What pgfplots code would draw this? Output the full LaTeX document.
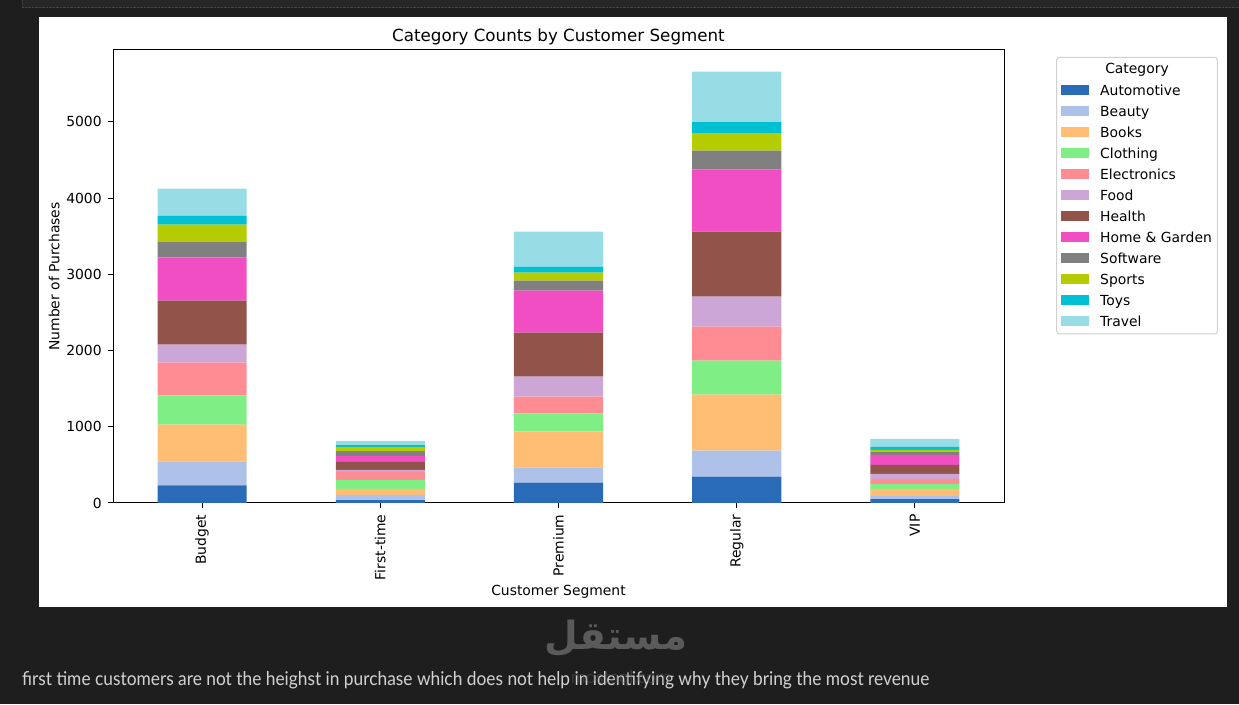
\documentclass[border=0pt]{standalone}
\usepackage{fontspec}
\usepackage{pgfplots}
\usepackage{pgfplotstable}
\pgfplotsset{compat=1.18}
\setmainfont{DejaVu Sans}
\newfontfamily\capfont{Lato}
\newfontfamily\arabicfont[Script=Arabic]{DejaVu Sans}
\TeXXeTstate=1

% page and panel colours
\definecolor{pagebg}{HTML}{1E1E1E}
\definecolor{stripbg}{HTML}{262626}
\definecolor{stripline}{HTML}{444444}
\definecolor{captext}{HTML}{D2D2D2}
\definecolor{wmgray}{HTML}{5A5A5A}
\definecolor{legframe}{HTML}{D0D0D0}
% category colours
\definecolor{cAuto}{HTML}{2A6BB8}
\definecolor{cBeauty}{HTML}{AEC2E9}
\definecolor{cBooks}{HTML}{FFBE74}
\definecolor{cClothing}{HTML}{7FEE85}
\definecolor{cElec}{HTML}{FF8C92}
\definecolor{cFood}{HTML}{CCA6D6}
\definecolor{cHealth}{HTML}{92544A}
\definecolor{cHome}{HTML}{F24EC4}
\definecolor{cSoft}{HTML}{808080}
\definecolor{cSports}{HTML}{B5CD00}
\definecolor{cToys}{HTML}{00C0D3}
\definecolor{cTravel}{HTML}{98DDE6}

\newcommand\lbl{\fontsize{13.9pt}{16pt}\selectfont}
\newcommand\ttl{\fontsize{16.7pt}{20pt}\selectfont}

% purchases per category (columns) for each customer segment (rows)
% seg: 0 Budget, 1 First-time, 2 Premium, 3 Regular, 4 VIP
\pgfplotstableread{
seg auto beauty books clothing electronics food health home software sports toys travel
0 232 315 481 385 429 236 577 569 206 223 118 354
1  39  66  79 118 105  26 105  79  65  53  26  53
2 267 201 472 237 218 263 577 552 131 105  78 460
3 346 341 735 446 446 394 853 813 250 223 149 665
4  52  40  92  65  66  66 118 131  39  27  39 105
}\counts

\pgfplotsset{
  seg/.style={fill=#1, draw=none,
    legend image code/.code={\fill[#1] (0pt,-5pt) rectangle (28pt,5pt);}},
}

\begin{document}
\begin{tikzpicture}[x=1pt,y=1pt]
\useasboundingbox (0,0) rectangle (1239,704);
\fill[pagebg] (0,0) rectangle (1239,704);
\fill[stripbg] (22,696) rectangle (1239,704);
\draw[stripline, densely dotted] (22.5,704) -- (22.5,696.5) -- (1239,696.5);
\fill[white] (39,97) rectangle (1227,687);

\begin{axis}[
  at={(113pt,201pt)}, anchor=south west,
  scale only axis, width=891pt, height=453pt,
  ybar stacked, bar width=0.5,
  xmin=-0.5, xmax=4.5, ymin=0, ymax=5944,
  xtick={0,1,2,3,4},
  xticklabels={Budget,First-time,Premium,Regular,VIP},
  ytick={0,1000,2000,3000,4000,5000},
  xtick pos=bottom, ytick pos=left,
  tick align=outside, major tick length=4.86pt,
  tick style={black, line width=1pt},
  axis line style={black, line width=1pt},
  /pgf/number format/assume math mode=true,
  /pgf/number format/1000 sep={},
  tick label style={font=\lbl},
  yticklabel style={anchor=east, inner sep=0pt, xshift=-6.3pt},
  xticklabel style={yshift=-6.5pt, rotate=90, anchor=east, inner sep=0pt},
  every axis title/.style={at={(axis description cs:0.5,1)}, anchor=base, yshift=8.6pt, font=\ttl},
  every axis x label/.style={at={(axis description cs:0.5,0)}, anchor=base, yshift=-92pt, font=\lbl},
  every axis y label/.style={at={(axis description cs:-0.0603,0.5)}, rotate=90, anchor=base, font=\lbl},
  title={Category Counts by Customer Segment},
  xlabel={Customer Segment},
  ylabel={Number of Purchases},
  legend cell align=left,
  legend style={at={(axis description cs:1.06397,0.92274)}, anchor=north west,
    draw=none, fill=none, inner sep=0pt, row sep=11pt, column sep=11pt,
    nodes={inner sep=0pt, text height=10pt, text depth=0pt, font=\lbl}},
]
\addplot[seg=cAuto]        table[x=seg, y=auto]        {\counts};
\addlegendentry{Automotive}
\addplot[seg=cBeauty]      table[x=seg, y=beauty]      {\counts};
\addlegendentry{Beauty}
\addplot[seg=cBooks]       table[x=seg, y=books]       {\counts};
\addlegendentry{Books}
\addplot[seg=cClothing]    table[x=seg, y=clothing]    {\counts};
\addlegendentry{Clothing}
\addplot[seg=cElec]        table[x=seg, y=electronics] {\counts};
\addlegendentry{Electronics}
\addplot[seg=cFood]        table[x=seg, y=food]        {\counts};
\addlegendentry{Food}
\addplot[seg=cHealth]      table[x=seg, y=health]      {\counts};
\addlegendentry{Health}
\addplot[seg=cHome]        table[x=seg, y=home]        {\counts};
\addlegendentry{Home \& Garden}
\addplot[seg=cSoft]        table[x=seg, y=software]    {\counts};
\addlegendentry{Software}
\addplot[seg=cSports]      table[x=seg, y=sports]      {\counts};
\addlegendentry{Sports}
\addplot[seg=cToys]        table[x=seg, y=toys]        {\counts};
\addlegendentry{Toys}
\addplot[seg=cTravel]      table[x=seg, y=travel]      {\counts};
\addlegendentry{Travel}
\end{axis}

% legend frame and title
\draw[legframe, line width=1pt, rounded corners=2.8pt] (1056.7,370) rectangle (1217.3,646.7);
\node[anchor=base, inner sep=0pt, font=\lbl] at (1137,630) {Category};

% caption line under the panel
\node[anchor=base west, inner sep=0pt, text=captext] at (22,19)
  {\resizebox{907pt}{\height}{\capfont\fontsize{19pt}{22pt}\selectfont first time customers are not the heighst in purchase which does not help in identifying why they bring the most revenue}};

% site mark
\node[inner sep=0pt, text=wmgray] at (616,66)
  {\resizebox{142pt}{!}{\arabicfont\bfseries\beginR مستقل\endR}};
\node[inner sep=0pt, text=wmgray, opacity=0.45, font=\capfont\fontsize{18pt}{20pt}\selectfont] at (621,26) {mostaql.com};
\end{tikzpicture}
\end{document}
